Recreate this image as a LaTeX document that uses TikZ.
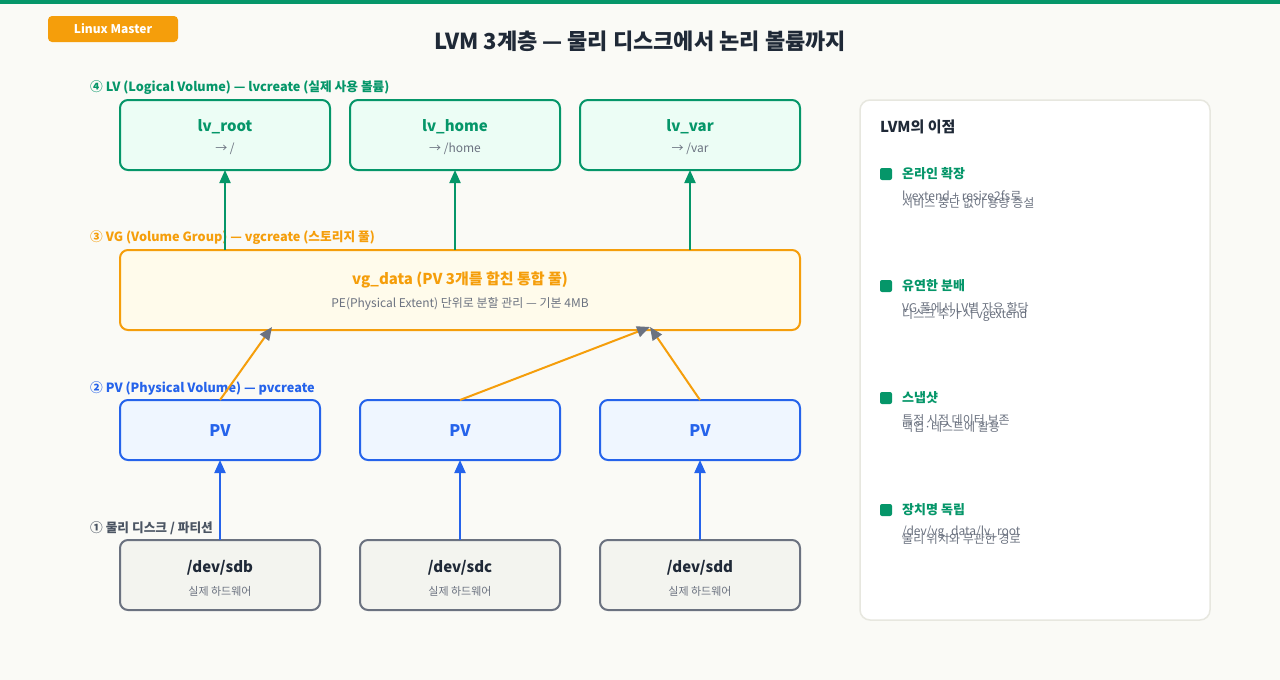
\documentclass[tikz,border=0pt]{standalone}
\usepackage{fontspec}
\setmainfont{Noto Sans CJK KR}
\usetikzlibrary{arrows.meta}
\definecolor{lvgreen}{HTML}{059669}
\definecolor{lvfill}{HTML}{ECFDF5}
\definecolor{vgorange}{HTML}{F59E0B}
\definecolor{vgfill}{HTML}{FFFBEB}
\definecolor{pvblue}{HTML}{2563EB}
\definecolor{pvfill}{HTML}{EFF6FF}
\definecolor{diskgray}{HTML}{6B7280}
\definecolor{diskfill}{HTML}{F3F4EF}
\definecolor{bgcol}{HTML}{FAFAF6}
\definecolor{textdark}{HTML}{1F2937}
\definecolor{textgray}{HTML}{6B7280}
\definecolor{labelgray}{HTML}{4B5563}
\definecolor{panelline}{HTML}{E7E7DF}
\tikzset{
  fsize/.style={font=\fontsize{#1}{#1}\selectfont},
  box/.style={rectangle, rounded corners=8pt, line width=2pt, inner sep=0pt, outer sep=0pt},
  lvbox/.style={box, draw=lvgreen, fill=lvfill, minimum height=70pt},
  vgbox/.style={box, draw=vgorange, fill=vgfill, minimum height=80pt, minimum width=680pt},
  pvbox/.style={box, draw=pvblue, fill=pvfill, minimum height=60pt, minimum width=200pt},
  diskbox/.style={box, draw=diskgray, fill=diskfill, minimum height=70pt, minimum width=200pt},
  layerlabel/.style={anchor=west, inner sep=0pt, font=\bfseries\fontsize{12.7}{12.7}\selectfont},
  subtext/.style={text=textgray, inner sep=0pt, fsize=12},
  lvarrow/.style={draw=lvgreen, line width=2pt, -{Triangle[length=13pt,width=11pt]}},
  pvarrow/.style={draw=vgorange, line width=2pt, -{Triangle[length=13pt,width=11pt,color=diskgray]}},
  diskarrow/.style={draw=pvblue, line width=2pt, -{Triangle[length=13pt,width=11pt]}},
  itemtitle/.style={anchor=west, inner sep=0pt, text=lvgreen, font=\bfseries\fontsize{13}{13}\selectfont},
  itemtext/.style={anchor=west, inner sep=0pt, text=textgray, fsize=12}
}
\begin{document}
\begin{tikzpicture}[x=1pt,y=-1pt]
  % background
  \fill[bgcol] (0,0) rectangle (1280,680);
  \useasboundingbox (0,0) rectangle (1280,680);
  \fill[lvgreen] (0,0) rectangle (1280,4);
  % badge and title
  \fill[vgorange, rounded corners=4pt] (48,16) rectangle (178,42);
  \node[text=white, font=\bfseries\fontsize{12}{12}\selectfont] (badge) at (113,29) {Linux Master};
  \node[text=textdark, font=\bfseries\fontsize{22}{22}\selectfont] (title) at (640,41) {LVM 3계층 — 물리 디스크에서 논리 볼륨까지};

  % layer 4: LV
  \node[layerlabel, text=lvgreen] (lvlabel) at (90,88) {④ LV (Logical Volume) — lvcreate (실제 사용 볼륨)};
  \node[lvbox, minimum width=210pt] (lvroot) at (225,135) {};
  \node[lvbox, minimum width=210pt] (lvhome) at (455,135) {};
  \node[lvbox, minimum width=220pt] (lvvar) at (690,135) {};
  \node[text=lvgreen, font=\bfseries\fontsize{15}{15}\selectfont] at ([yshift=8pt]lvroot.center) {lv\_root};
  \node[subtext] at ([yshift=-14pt]lvroot.center) {→ /};
  \node[text=lvgreen, font=\bfseries\fontsize{15}{15}\selectfont] at ([yshift=8pt]lvhome.center) {lv\_home};
  \node[subtext] at ([yshift=-14pt]lvhome.center) {→ /home};
  \node[text=lvgreen, font=\bfseries\fontsize{15}{15}\selectfont] at ([yshift=8pt]lvvar.center) {lv\_var};
  \node[subtext] at ([yshift=-14pt]lvvar.center) {→ /var};

  % layer 3: VG
  \node[layerlabel, text=vgorange] (vglabel) at (90,238) {③ VG (Volume Group) — vgcreate (스토리지 풀)};
  \node[vgbox] (vg) at (460,290) {};
  \node[text=vgorange, font=\bfseries\fontsize{15}{15}\selectfont] at ([yshift=10pt]vg.center) {vg\_data (PV 3개를 합친 통합 풀)};
  \node[subtext] at ([yshift=-14pt]vg.center) {PE(Physical Extent) 단위로 분할 관리 — 기본 4MB};

  % layer 2: PV
  \node[layerlabel, text=pvblue] (pvlabel) at (90,388) {② PV (Physical Volume) — pvcreate};
  \node[pvbox] (pva) at (220,430) {};
  \node[pvbox] (pvb) at (460,430) {};
  \node[pvbox] (pvc) at (700,430) {};
  \node[text=pvblue, font=\bfseries\fontsize{16}{16}\selectfont] at ([yshift=-1pt]pva.center) {PV};
  \node[text=pvblue, font=\bfseries\fontsize{16}{16}\selectfont] at ([yshift=-1pt]pvb.center) {PV};
  \node[text=pvblue, font=\bfseries\fontsize{16}{16}\selectfont] at ([yshift=-1pt]pvc.center) {PV};

  % layer 1: disks
  \node[layerlabel, text=labelgray] (disklabel) at (90,528) {① 물리 디스크 / 파티션};
  \node[diskbox] (diska) at (220,575) {};
  \node[diskbox] (diskb) at (460,575) {};
  \node[diskbox] (diskc) at (700,575) {};
  \node[text=textdark, font=\bfseries\fontsize{15}{15}\selectfont] at ([yshift=7pt]diska.center) {/dev/sdb};
  \node[subtext, fsize=11] at ([yshift=-16pt]diska.center) {실제 하드웨어};
  \node[text=textdark, font=\bfseries\fontsize{15}{15}\selectfont] at ([yshift=7pt]diskb.center) {/dev/sdc};
  \node[subtext, fsize=11] at ([yshift=-16pt]diskb.center) {실제 하드웨어};
  \node[text=textdark, font=\bfseries\fontsize{15}{15}\selectfont] at ([yshift=7pt]diskc.center) {/dev/sdd};
  \node[subtext, fsize=11] at ([yshift=-16pt]diskc.center) {실제 하드웨어};

  % connectors
  \draw[lvarrow] (lvroot.south |- vg.north) -- (lvroot.south);
  \draw[lvarrow] (lvhome.south |- vg.north) -- (lvhome.south);
  \draw[lvarrow] (lvvar.south |- vg.north) -- (lvvar.south);
  \coordinate (vgtipa) at (272,327);
  \coordinate (vgtipb) at (650,327);
  \draw[pvarrow] (pva.north) -- (vgtipa);
  \draw[pvarrow] (pvb.north) -- (vgtipb);
  \draw[pvarrow] (pvc.north) -- (vgtipb);
  \draw[diskarrow] (diska.north) -- (pva.south);
  \draw[diskarrow] (diskb.north) -- (pvb.south);
  \draw[diskarrow] (diskc.north) -- (pvc.south);

  % side panel
  \draw[panelline, fill=white, line width=1.5pt, rounded corners=10pt] (860,100) rectangle (1210,620);
  \node[anchor=west, inner sep=0pt, text=textdark, font=\bfseries\fontsize{15}{15}\selectfont] (paneltitle) at (880,127) {LVM의 이점};
  \fill[lvgreen, rounded corners=2pt] (880,168) rectangle (892,180);
  \node[itemtitle] (itema) at (902,174) {온라인 확장};
  \node[itemtext] at (902,196) {lvextend + resize2fs로};
  \node[itemtext] at (902,203) {서비스 중단 없이 용량 증설};
  \fill[lvgreen, rounded corners=2pt] (880,280) rectangle (892,292);
  \node[itemtitle] (itemb) at (902,286) {유연한 분배};
  \node[itemtext] at (902,308) {VG 풀에서 LV별 자유 할당};
  \node[itemtext] at (902,315) {디스크 추가 시 vgextend};
  \fill[lvgreen, rounded corners=2pt] (880,392) rectangle (892,404);
  \node[itemtitle] (itemc) at (902,398) {스냅샷};
  \node[itemtext] at (902,420) {특정 시점 데이터 보존};
  \node[itemtext] at (902,427) {백업·테스트에 활용};
  \fill[lvgreen, rounded corners=2pt] (880,504) rectangle (892,516);
  \node[itemtitle] (itemd) at (902,510) {장치명 독립};
  \node[itemtext] at (902,532) {/dev/vg\_data/lv\_root};
  \node[itemtext] at (902,539) {물리 위치와 무관한 경로};
\end{tikzpicture}
\end{document}
